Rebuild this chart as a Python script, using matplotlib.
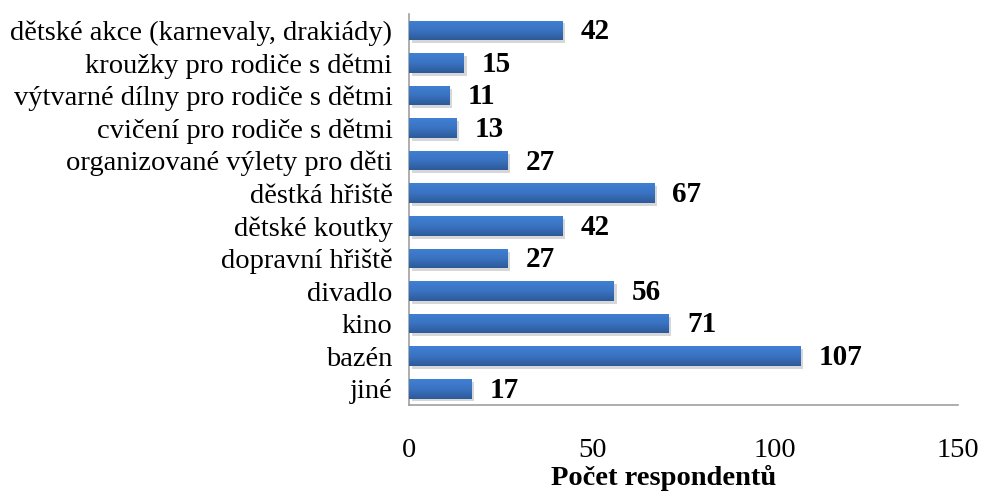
import numpy as np
import matplotlib
matplotlib.use("Agg")
import matplotlib.pyplot as plt
from matplotlib.colors import LinearSegmentedColormap

# data, top to bottom
categories = ["dětské akce (karnevaly, drakiády)", "kroužky pro rodiče s dětmi",
              "výtvarné dílny pro rodiče s dětmi", "cvičení pro rodiče s dětmi",
              "organizované výlety pro děti", "děstká hřiště", "dětské koutky",
              "dopravní hřiště", "divadlo", "kino", "bazén", "jiné"]
counts = [42, 15, 11, 13, 27, 67, 42, 27, 56, 71, 107, 17]
xticks = [0, 50, 100, 150]

plt.rcParams['font.family'] = ['Liberation Serif', 'DejaVu Serif']

fig = plt.figure(figsize=(9.81, 4.91), dpi=100)
ax = fig.add_axes([0.417, 0.175, 0.5596, 0.7965])

y = np.arange(len(categories))
h = 0.6

# soft shadow under bars
ax.barh(y + 0.09, counts, height=h, left=0.7, color="#bdbdbd", alpha=0.6, zorder=1)
bars = ax.barh(y, counts, height=h, color="#3a74c4", zorder=2)

# vertical gradient inside each bar
cmap = LinearSegmentedColormap.from_list("blu", ["#4080d4", "#3a73c2", "#2d5a99"])
grad = np.linspace(0, 1, 64).reshape(-1, 1)
for b in bars:
    x0, y0 = b.get_x(), b.get_y()
    im = ax.imshow(grad, cmap=cmap, aspect='auto', zorder=3,
                   extent=[x0, x0 + b.get_width(), y0 + b.get_height(), y0])
    im.set_clip_path(b)

for yi, v in zip(y, counts):
    ax.annotate(str(v), (v, yi), xytext=(13, -1), textcoords='offset points',
                va='center', ha='left', fontsize=21, fontweight='bold', zorder=4)

ax.set_xlim(0, 150)
ax.set_ylim(len(categories) - 0.5, -0.5)
ax.set_yticks(y)
ax.set_yticklabels(categories, fontsize=20.5)
ax.set_xticks(xticks)
ax.set_xticklabels([str(t) for t in xticks], fontsize=20.5)
ax.tick_params(axis='both', length=0)
ax.tick_params(axis='x', pad=24)
ax.tick_params(axis='y', pad=12)
ax.set_xlabel("Počet respondentů", fontsize=20.5, fontweight='bold')
ax.xaxis.label.set_va('center')
ax.xaxis.set_label_coords(0.463, -0.186)

for s in ['top', 'right']:
    ax.spines[s].set_visible(False)
for s in ['left', 'bottom']:
    ax.spines[s].set_color('#a0a0a0')
    ax.spines[s].set_linewidth(1.2)

fig.savefig("out.png", dpi=100)
